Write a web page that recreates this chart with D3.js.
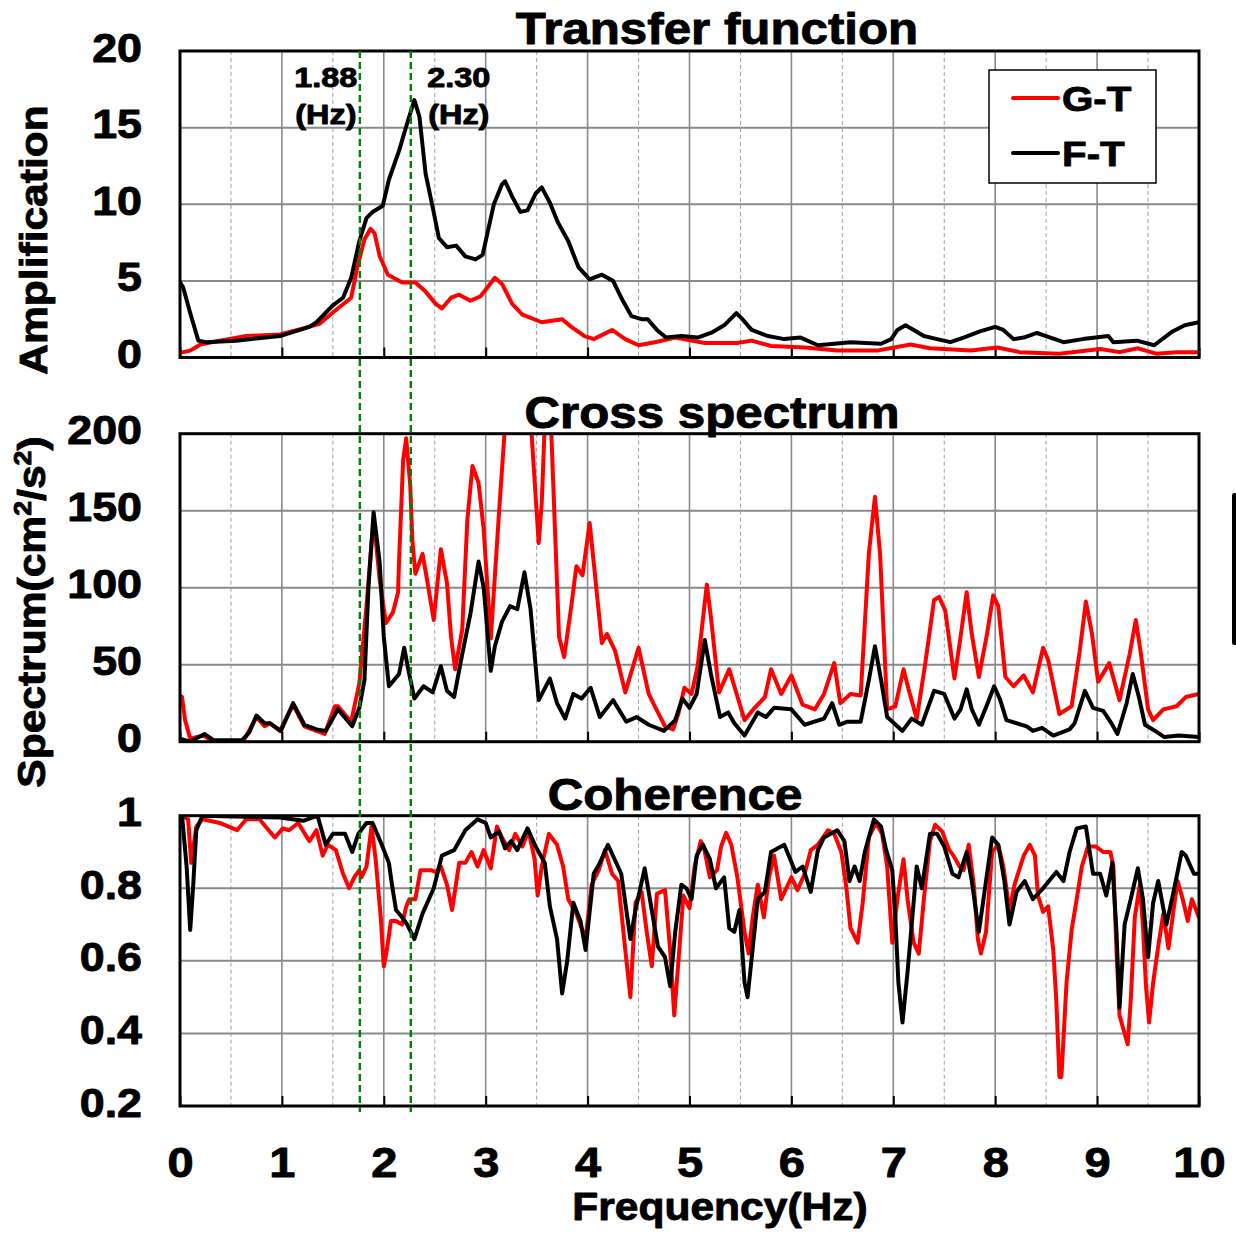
<!DOCTYPE html>
<html><head><meta charset="utf-8">
<script src="https://cdn.jsdelivr.net/npm/d3@7"></script>
<style>body{margin:0;background:#fff;} svg{display:block;font-family:"Liberation Sans",Arial,sans-serif;}</style>
</head><body>
<svg id="chart" width="1236" height="1239"></svg>
<script>
// ---------------- DATA ----------------
const freqTicks = [0,1,2,3,4,5,6,7,8,9,10];
const halfTicks = [0.5,1.5,2.5,3.5,4.5,5.5,6.5,7.5,8.5,9.5];
const tfTicks = [0,5,10,15,20];
const csTicks = [0,50,100,150,200];
const cohTicks = [0.2,0.4,0.6,0.8,1];
const panelTitles = ["Transfer function","Cross spectrum","Coherence"];
const seriesNames = ["G-T","F-T"];
const seriesColors = ["#ff0000","#000000"];
const markerFreqs = [1.765, 2.265];
const markerLabels = ["1.88","2.30"];

// Transfer function (amplification)
const tfGT = [[0,0.3],[0.03,0.35],[0.1,0.45],[0.2,0.85],[0.39,1.1],[0.65,1.4],[0.98,1.5],[1.21,1.9],[1.37,2.2],[1.53,3.1],[1.68,3.9],[1.74,5.9],[1.81,7.7],[1.87,8.4],[1.91,8.1],[1.96,6.6],[2.04,5.4],[2.18,4.9],[2.31,4.9],[2.41,4.3],[2.51,3.5],[2.57,3.2],[2.66,3.9],[2.74,4.1],[2.85,3.7],[2.95,4.0],[3.09,5.2],[3.16,4.8],[3.26,3.5],[3.36,2.8],[3.55,2.3],[3.75,2.5],[3.84,2.0],[3.97,1.4],[4.06,1.2],[4.24,1.8],[4.37,1.2],[4.50,0.8],[4.66,1.0],[4.86,1.3],[5.02,1.1],[5.15,0.95],[5.47,0.95],[5.61,1.1],[5.80,0.75],[6.13,0.65],[6.45,0.45],[6.84,0.45],[7.17,0.85],[7.36,0.6],[7.76,0.45],[8.02,0.65],[8.24,0.35],[8.63,0.25],[9.03,0.55],[9.22,0.35],[9.40,0.6],[9.58,0.25],[9.78,0.35],[10,0.35]];
const tfFT = [[0,4.9],[0.03,4.6],[0.1,2.9],[0.18,1.1],[0.26,1.0],[0.55,1.1],[0.98,1.4],[1.27,2.0],[1.34,2.3],[1.50,3.4],[1.60,3.9],[1.68,5.2],[1.76,7.6],[1.83,9.1],[1.89,9.5],[1.99,9.9],[2.05,11.6],[2.15,13.5],[2.23,15.3],[2.30,16.8],[2.35,15.7],[2.41,12.0],[2.48,9.8],[2.54,7.8],[2.62,7.2],[2.71,7.3],[2.80,6.6],[2.90,6.4],[2.97,6.7],[3.08,10.0],[3.16,11.3],[3.19,11.5],[3.26,10.5],[3.34,9.5],[3.41,9.6],[3.49,10.7],[3.55,11.1],[3.63,10.1],[3.71,8.8],[3.81,7.6],[3.91,5.9],[4.02,5.1],[4.14,5.4],[4.25,5.0],[4.33,3.9],[4.43,2.7],[4.53,2.5],[4.59,2.5],[4.68,1.8],[4.77,1.3],[4.92,1.4],[5.08,1.3],[5.21,1.6],[5.34,2.1],[5.46,2.9],[5.52,2.5],[5.61,1.8],[5.77,1.4],[5.93,1.2],[6.09,1.3],[6.26,0.8],[6.42,0.9],[6.58,1.0],[6.88,0.9],[6.98,1.2],[7.04,1.8],[7.12,2.1],[7.20,1.8],[7.30,1.4],[7.43,1.2],[7.56,1.0],[7.69,1.3],[7.85,1.7],[8.00,2.0],[8.08,1.8],[8.18,1.2],[8.28,1.3],[8.41,1.6],[8.50,1.4],[8.67,1.0],[8.86,1.2],[9.11,1.4],[9.16,1.0],[9.39,1.1],[9.56,0.8],[9.74,1.7],[9.86,2.1],[10,2.3]];

// Cross spectrum (cm2/s2)
const csGT = [[0,30],[0.02,29],[0.05,14],[0.1,2],[0.23,4],[0.33,0],[0.62,0],[0.75,16],[0.83,10],[0.88,12],[0.98,7],[1.11,24],[1.22,10],[1.42,5],[1.52,23],[1.55,23],[1.68,13],[1.76,38],[1.83,88],[1.90,145],[1.96,105],[2.02,77],[2.09,84],[2.14,97],[2.15,118],[2.19,183],[2.22,197],[2.26,166],[2.28,131],[2.31,109],[2.38,122],[2.43,103],[2.49,79],[2.56,125],[2.62,103],[2.66,68],[2.70,47],[2.77,73],[2.82,144],[2.87,179],[2.93,168],[2.98,138],[3.05,67],[3.13,148],[3.32,330],[3.46,190],[3.52,129],[3.55,155],[3.61,260],[3.67,155],[3.72,68],[3.77,55],[3.84,88],[3.89,114],[3.95,108],[4.02,142],[4.07,110],[4.14,64],[4.19,70],[4.27,59],[4.37,32],[4.50,61],[4.60,31],[4.66,23],[4.76,10],[4.84,8],[4.89,18],[4.95,35],[5.02,31],[5.08,49],[5.17,102],[5.21,81],[5.29,32],[5.39,47],[5.44,36],[5.54,14],[5.64,22],[5.74,29],[5.80,47],[5.90,31],[6.00,43],[6.11,24],[6.23,21],[6.32,31],[6.42,51],[6.48,25],[6.58,31],[6.68,30],[6.76,122],[6.82,159],[6.87,122],[6.94,21],[7.02,23],[7.10,47],[7.15,34],[7.23,15],[7.31,49],[7.40,92],[7.45,94],[7.51,85],[7.60,41],[7.66,68],[7.72,97],[7.77,70],[7.84,42],[7.92,70],[7.98,95],[8.03,88],[8.10,42],[8.18,36],[8.28,43],[8.37,32],[8.47,61],[8.52,53],[8.63,18],[8.75,23],[8.83,59],[8.89,91],[8.95,70],[9.01,39],[9.12,51],[9.22,27],[9.32,57],[9.38,79],[9.43,57],[9.50,21],[9.55,14],[9.65,21],[9.78,23],[9.87,29],[10,31]];
const csFT = [[0,2],[0.1,0],[0.24,5],[0.33,1],[0.61,1],[0.68,6],[0.75,17],[0.83,12],[0.88,12],[0.99,7],[1.11,25],[1.22,11],[1.34,8],[1.43,7],[1.55,21],[1.69,10],[1.76,22],[1.81,40],[1.85,101],[1.90,149],[1.96,116],[2.00,68],[2.05,36],[2.15,44],[2.20,61],[2.24,47],[2.30,28],[2.39,36],[2.48,32],[2.56,49],[2.62,33],[2.69,29],[2.77,57],[2.85,83],[2.93,117],[2.98,100],[3.05,46],[3.09,62],[3.16,78],[3.24,88],[3.31,86],[3.38,110],[3.44,86],[3.52,27],[3.63,41],[3.70,25],[3.78,15],[3.86,31],[3.94,28],[4.03,35],[4.12,16],[4.25,27],[4.38,13],[4.48,16],[4.60,11],[4.75,7],[4.86,14],[4.93,28],[5.00,22],[5.07,31],[5.15,66],[5.21,44],[5.30,16],[5.38,19],[5.44,12],[5.54,4],[5.67,19],[5.75,16],[5.83,22],[6.00,21],[6.13,11],[6.32,15],[6.40,25],[6.47,11],[6.55,13],[6.68,13],[6.76,40],[6.82,62],[6.88,40],[6.94,16],[7.09,7],[7.18,15],[7.28,11],[7.40,33],[7.50,31],[7.60,15],[7.66,21],[7.72,34],[7.77,21],[7.84,11],[7.92,24],[7.99,36],[8.05,27],[8.11,14],[8.31,10],[8.37,7],[8.46,9],[8.57,4],[8.73,8],[8.78,12],[8.88,33],[8.96,22],[9.06,20],[9.14,12],[9.20,5],[9.29,25],[9.35,44],[9.41,29],[9.47,11],[9.57,7],[9.66,3],[9.80,4],[10,3]];

// Coherence
const cohGT = [[0,1.0],[0.02,1.0],[0.08,0.99],[0.11,0.87],[0.16,0.97],[0.22,0.99],[0.39,0.98],[0.56,0.96],[0.65,0.99],[0.78,0.99],[0.93,0.94],[1.01,0.965],[1.07,0.96],[1.16,0.98],[1.27,0.93],[1.34,0.96],[1.40,0.89],[1.45,0.92],[1.53,0.905],[1.60,0.84],[1.66,0.80],[1.71,0.83],[1.76,0.85],[1.78,0.83],[1.83,0.86],[1.88,0.97],[1.92,0.88],[1.97,0.72],[2.00,0.585],[2.03,0.63],[2.07,0.71],[2.12,0.71],[2.18,0.70],[2.22,0.75],[2.25,0.77],[2.31,0.77],[2.36,0.85],[2.46,0.85],[2.51,0.845],[2.56,0.86],[2.62,0.81],[2.67,0.74],[2.74,0.87],[2.80,0.87],[2.86,0.90],[2.92,0.86],[2.98,0.905],[3.05,0.855],[3.11,0.97],[3.16,0.94],[3.23,0.905],[3.29,0.95],[3.36,0.915],[3.42,0.96],[3.48,0.88],[3.51,0.78],[3.55,0.86],[3.62,0.95],[3.70,0.92],[3.76,0.86],[3.81,0.77],[3.89,0.73],[3.98,0.66],[4.04,0.81],[4.11,0.85],[4.17,0.905],[4.24,0.84],[4.30,0.82],[4.37,0.63],[4.42,0.50],[4.47,0.76],[4.53,0.79],[4.58,0.68],[4.63,0.585],[4.68,0.785],[4.76,0.795],[4.81,0.63],[4.85,0.45],[4.90,0.63],[4.94,0.78],[5.00,0.745],[5.05,0.86],[5.11,0.93],[5.14,0.915],[5.20,0.83],[5.27,0.85],[5.31,0.915],[5.36,0.953],[5.41,0.92],[5.47,0.83],[5.54,0.68],[5.58,0.62],[5.62,0.72],[5.67,0.81],[5.73,0.72],[5.78,0.83],[5.83,0.89],[5.90,0.77],[6.00,0.83],[6.06,0.795],[6.13,0.84],[6.19,0.905],[6.26,0.92],[6.36,0.96],[6.42,0.95],[6.49,0.90],[6.54,0.80],[6.58,0.69],[6.65,0.65],[6.70,0.76],[6.76,0.94],[6.83,0.98],[6.89,0.95],[6.94,0.86],[6.99,0.65],[7.04,0.77],[7.10,0.88],[7.14,0.77],[7.20,0.65],[7.25,0.62],[7.30,0.77],[7.36,0.93],[7.41,0.975],[7.48,0.956],[7.55,0.905],[7.59,0.89],[7.65,0.86],[7.69,0.85],[7.74,0.92],[7.79,0.81],[7.83,0.66],[7.86,0.62],[7.91,0.68],[7.97,0.90],[8.03,0.92],[8.08,0.86],[8.14,0.74],[8.19,0.81],[8.28,0.89],[8.34,0.92],[8.39,0.89],[8.42,0.78],[8.47,0.735],[8.52,0.75],[8.57,0.63],[8.60,0.49],[8.63,0.28],[8.65,0.28],[8.70,0.54],[8.75,0.685],[8.80,0.77],[8.85,0.86],[8.91,0.915],[8.99,0.915],[9.06,0.90],[9.13,0.90],[9.16,0.86],[9.19,0.63],[9.22,0.45],[9.27,0.40],[9.30,0.37],[9.33,0.49],[9.37,0.72],[9.42,0.81],[9.45,0.695],[9.48,0.53],[9.51,0.43],[9.55,0.54],[9.60,0.64],[9.65,0.73],[9.70,0.635],[9.75,0.74],[9.79,0.82],[9.84,0.77],[9.89,0.71],[9.93,0.77],[10,0.72]];
const cohFT = [[0,1.0],[0.02,1.0],[0.065,0.86],[0.10,0.685],[0.13,0.81],[0.16,0.96],[0.22,1.0],[0.98,0.995],[1.21,0.986],[1.35,1.0],[1.40,0.95],[1.43,0.92],[1.50,0.95],[1.62,0.95],[1.69,0.90],[1.75,0.95],[1.83,0.98],[1.89,0.98],[1.98,0.92],[2.05,0.87],[2.08,0.81],[2.12,0.74],[2.18,0.72],[2.23,0.70],[2.30,0.66],[2.38,0.73],[2.49,0.80],[2.57,0.89],[2.69,0.905],[2.80,0.96],[2.92,0.99],[3.00,0.98],[3.05,0.94],[3.13,0.956],[3.19,0.91],[3.25,0.93],[3.31,0.905],[3.41,0.965],[3.49,0.915],[3.58,0.87],[3.63,0.75],[3.70,0.66],[3.75,0.51],[3.80,0.60],[3.86,0.76],[3.93,0.71],[3.98,0.63],[4.06,0.84],[4.12,0.87],[4.20,0.92],[4.33,0.84],[4.42,0.66],[4.47,0.74],[4.56,0.855],[4.69,0.64],[4.76,0.61],[4.81,0.53],[4.86,0.68],[4.92,0.81],[4.97,0.80],[5.02,0.77],[5.07,0.89],[5.13,0.92],[5.20,0.88],[5.26,0.80],[5.34,0.83],[5.39,0.69],[5.44,0.68],[5.49,0.74],[5.54,0.54],[5.57,0.50],[5.60,0.58],[5.67,0.77],[5.74,0.79],[5.80,0.90],[5.93,0.92],[6.04,0.845],[6.11,0.86],[6.19,0.79],[6.26,0.905],[6.32,0.94],[6.45,0.96],[6.52,0.93],[6.57,0.82],[6.62,0.86],[6.67,0.82],[6.72,0.90],[6.81,0.99],[6.88,0.97],[6.93,0.905],[6.99,0.85],[7.02,0.72],[7.05,0.54],[7.09,0.43],[7.14,0.57],[7.19,0.73],[7.23,0.86],[7.28,0.80],[7.36,0.95],[7.43,0.95],[7.50,0.915],[7.58,0.84],[7.64,0.83],[7.72,0.90],[7.77,0.82],[7.84,0.68],[7.89,0.78],[7.97,0.94],[8.03,0.92],[8.09,0.82],[8.14,0.70],[8.21,0.79],[8.29,0.82],[8.37,0.77],[8.47,0.80],[8.60,0.845],[8.67,0.82],[8.73,0.90],[8.80,0.965],[8.89,0.97],[8.96,0.84],[9.03,0.84],[9.09,0.78],[9.15,0.87],[9.19,0.68],[9.22,0.47],[9.27,0.70],[9.33,0.77],[9.40,0.855],[9.45,0.77],[9.50,0.61],[9.55,0.76],[9.60,0.82],[9.68,0.70],[9.75,0.79],[9.83,0.90],[9.87,0.89],[9.95,0.84],[10,0.84]];

// ---------------- LAYOUT ----------------
const S = 1.12;             // horizontal stretch of the bold type
const TS = 0.9;             // outline to make the type heavier
const plotLeft = 180, plotRight = 1199;
const panels = [
  {top: 51,    bottom: 357.5, domain: [0, 20],  ticks: tfTicks,  fmt: d => String(d), series: [tfGT, tfFT], title: panelTitles[0], titleX: 717, titleY: 44},
  {top: 433.7, bottom: 741.7, domain: [0, 200], ticks: csTicks,  fmt: d => String(d), series: [csGT, csFT], title: panelTitles[1], titleX: 712, titleY: 428},
  {top: 815.7, bottom: 1106,  domain: [0.2, 1], ticks: cohTicks, fmt: d => d === 1 ? "1" : d3.format(".1f")(d), series: [cohGT, cohFT], title: panelTitles[2], titleX: 675, titleY: 810}
];

const svg = d3.select("#chart");
svg.append("rect").attr("width",1236).attr("height",1239).attr("fill","#fff");
const x = d3.scaleLinear().domain([0,10]).range([plotLeft, plotRight]);

function heavy(sel) {
  return sel.attr("font-weight", "bold").attr("fill", "#000")
    .attr("stroke", "#000").attr("stroke-width", TS).attr("stroke-linejoin", "round");
}
function txt(sel, px, py, str, size, anchor, rot, st) {
  return heavy(sel.append("text")
    .attr("transform", `translate(${px},${py}) rotate(${rot||0}) scale(${st||S},1)`)
    .attr("text-anchor", anchor || "middle")
    .attr("font-size", size))
    .text(str);
}

panels.forEach((p, i) => {
  const y = d3.scaleLinear().domain(p.domain).range([p.bottom, p.top]);
  const g = svg.append("g");
  const clipId = "clip" + i;
  svg.append("clipPath").attr("id", clipId).append("rect")
    .attr("x", plotLeft).attr("y", p.top).attr("width", plotRight - plotLeft).attr("height", p.bottom - p.top);

  // dashed half-Hz grid
  g.append("g").selectAll("line").data(halfTicks).join("line")
    .attr("x1", d => x(d)).attr("x2", d => x(d)).attr("y1", p.top).attr("y2", p.bottom)
    .attr("stroke", "#a0a0a0").attr("stroke-width", 1).attr("stroke-dasharray", "4,3");
  // solid integer grid
  g.append("g").selectAll("line").data(freqTicks.slice(1, -1)).join("line")
    .attr("x1", d => x(d)).attr("x2", d => x(d)).attr("y1", p.top).attr("y2", p.bottom)
    .attr("stroke", "#8a8a8a").attr("stroke-width", 1.6);
  // horizontal grid
  g.append("g").selectAll("line").data(p.ticks.slice(1, -1)).join("line")
    .attr("x1", plotLeft).attr("x2", plotRight).attr("y1", d => y(d)).attr("y2", d => y(d))
    .attr("stroke", "#8a8a8a").attr("stroke-width", 2);

  // inner tick marks on bottom axis
  const bx = g.append("g").attr("transform", `translate(0,${p.bottom})`)
    .call(d3.axisBottom(x).tickValues(freqTicks).tickSizeInner(-10).tickSizeOuter(0).tickFormat(""));
  bx.select(".domain").remove();
  bx.selectAll(".tick line").attr("stroke", "#000").attr("stroke-width", 2);

  // left axis labels
  const ly = g.append("g").attr("transform", `translate(${plotLeft},0)`)
    .call(d3.axisLeft(y).tickValues(p.ticks).tickSize(0).tickFormat(p.fmt));
  ly.select(".domain").remove();
  heavy(ly.selectAll(".tick text")
    .attr("x", null).attr("dy", null)
    .attr("transform", `translate(-38,10) scale(${S},1)`)
    .attr("text-anchor", "end")
    .attr("font-size", 40)
    .attr("font-family", '"Liberation Sans",Arial,sans-serif'));

  // series
  const line = d3.line().x(d => x(d[0])).y(d => y(d[1]));
  const sg = g.append("g").attr("clip-path", `url(#${clipId})`);
  p.series.forEach((s, k) => {
    sg.append("path").datum(s).attr("d", line)
      .attr("fill", "none").attr("stroke", seriesColors[k])
      .attr("stroke-width", 4).attr("stroke-linejoin", "round").attr("stroke-linecap", "round");
  });

  // frame
  g.append("rect").attr("x", plotLeft).attr("y", p.top)
    .attr("width", plotRight - plotLeft).attr("height", p.bottom - p.top)
    .attr("fill", "none").attr("stroke", "#000").attr("stroke-width", 3);

  // title
  txt(svg, p.titleX, p.titleY, p.title, 44, "middle");

  if (i === 2) {
    const xa = g.append("g").attr("transform", `translate(0,${p.bottom})`)
      .call(d3.axisBottom(x).tickValues(freqTicks).tickSize(0).tickFormat(d3.format("d")));
    xa.select(".domain").remove();
    heavy(xa.selectAll(".tick text")
      .attr("y", null).attr("dy", null)
      .attr("transform", `translate(0,71) scale(${S},1)`)
      .attr("text-anchor", "middle")
      .attr("font-size", 42)
      .attr("font-family", '"Liberation Sans",Arial,sans-serif'));
  }
});

// green dashed marker lines across all panels
svg.append("g").selectAll("line").data(markerFreqs).join("line")
  .attr("x1", d => x(d)).attr("x2", d => x(d)).attr("y1", panels[0].top).attr("y2", 1112)
  .attr("stroke", "#008000").attr("stroke-width", 2.4).attr("stroke-dasharray", "7,4");

// marker annotations
markerLabels.forEach((lab, k) => {
  const cx = k === 0 ? x(markerFreqs[k]) - 34 : x(markerFreqs[k]) + 48;
  txt(svg, cx, 87, lab, 27, "middle", 0, 1.2);
  txt(svg, cx, 124, "(Hz)", 27, "middle", 0, 1.2);
});

// legend
const lg = svg.append("g");
lg.append("rect").attr("x", 989).attr("y", 70).attr("width", 167).attr("height", 113)
  .attr("fill", "#fff").attr("stroke", "#000").attr("stroke-width", 1.5);
seriesNames.forEach((n, k) => {
  const yy = 98 + k * 55;
  lg.append("line").attr("x1", 1013).attr("x2", 1058).attr("y1", yy).attr("y2", yy)
    .attr("stroke", seriesColors[k]).attr("stroke-width", 4).attr("stroke-linecap", "round");
  txt(lg, 1062, yy + 13, n, 36, "start");
});

// axis titles
txt(svg, 47, 240, "Amplification", 38, "middle", -90);
const sp = heavy(svg.append("text")
  .attr("transform", `translate(45,612) rotate(-90) scale(${S},1)`)
  .attr("text-anchor", "middle").attr("font-size", 38));
sp.append("tspan").text("Spectrum(cm");
sp.append("tspan").attr("font-size", 24).attr("dy", -14).text("2");
sp.append("tspan").attr("dy", 14).text("/s");
sp.append("tspan").attr("font-size", 24).attr("dy", -14).text("2");
sp.append("tspan").attr("dy", 14).text(")");
txt(svg, 720, 1220, "Frequency(Hz)", 38, "middle");

// cropped edge mark at the right border of the source figure
svg.append("rect").attr("x", 1232).attr("y", 493).attr("width", 5).attr("height", 152)
  .attr("rx", 2.5).attr("fill", "#000");
</script>
</body></html>
